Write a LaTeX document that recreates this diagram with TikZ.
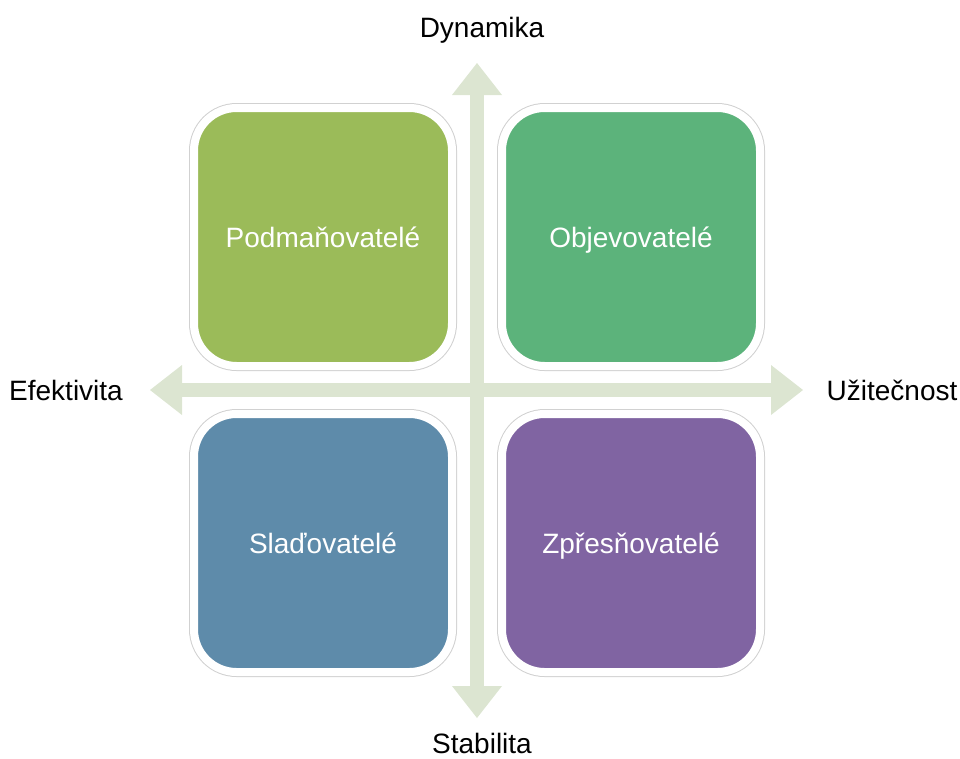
\documentclass[tikz,border=0pt]{standalone}
\usepackage{fontspec}
\setmainfont{Liberation Sans}
\usepackage{tikz}
\usetikzlibrary{arrows.meta}

\definecolor{quadOlive}{HTML}{9BBB59}
\definecolor{quadGreen}{HTML}{5CB37B}
\definecolor{quadBlue}{HTML}{5E8BAA}
\definecolor{quadPurple}{HTML}{8064A2}
\definecolor{axisGreen}{HTML}{DCE5D1}

\tikzset{
  quad/.style={rounded corners=32pt, minimum size=193.5pt, line width=6pt,
    draw=white, text=white, font=\fontsize{21}{25}\selectfont,
    text height=15pt, text depth=0pt,
    preaction={draw=black!18, line width=7.5pt}},
  axis/.style={line width=10.5pt, draw=axisGreen,
    {Triangle[width=37.5pt,length=24pt,line width=0pt]}-{Triangle[width=37.5pt,length=24pt,line width=0pt]}},
  lbl/.style={font=\fontsize{21}{25}\selectfont}
}

\begin{document}
\begin{tikzpicture}[x=0.75pt, y=-0.75pt]
\useasboundingbox (0,0) rectangle (960,758);

% ends of the two axes
\coordinate (top) at (477,63);
\coordinate (bottom) at (477,718);
\coordinate (left) at (150,390);
\coordinate (right) at (803,390);

\draw[axis] (bottom) -- (top);
\draw[axis] (left) -- (right);

% the four quadrants
\node[quad, fill=quadOlive] (podman) at (323,237) {Podmaňovatelé};
\node[quad, fill=quadGreen] (objev) at (631,237) {Objevovatelé};
\node[quad, fill=quadBlue] (sladov) at (323,543) {Slaďovatelé};
\node[quad, fill=quadPurple] (zpres) at (631,543) {Zpřesňovatelé};

% axis labels
\node[lbl] (dynamika) at (482,30) {Dynamika};
\node[lbl] (stabilita) at (482,743) {Stabilita};
\node[lbl] (efektivita) at (66,390) {Efektivita};
\node[lbl] (uzitecnost) at (892,390) {Užitečnost};
\end{tikzpicture}
\end{document}
